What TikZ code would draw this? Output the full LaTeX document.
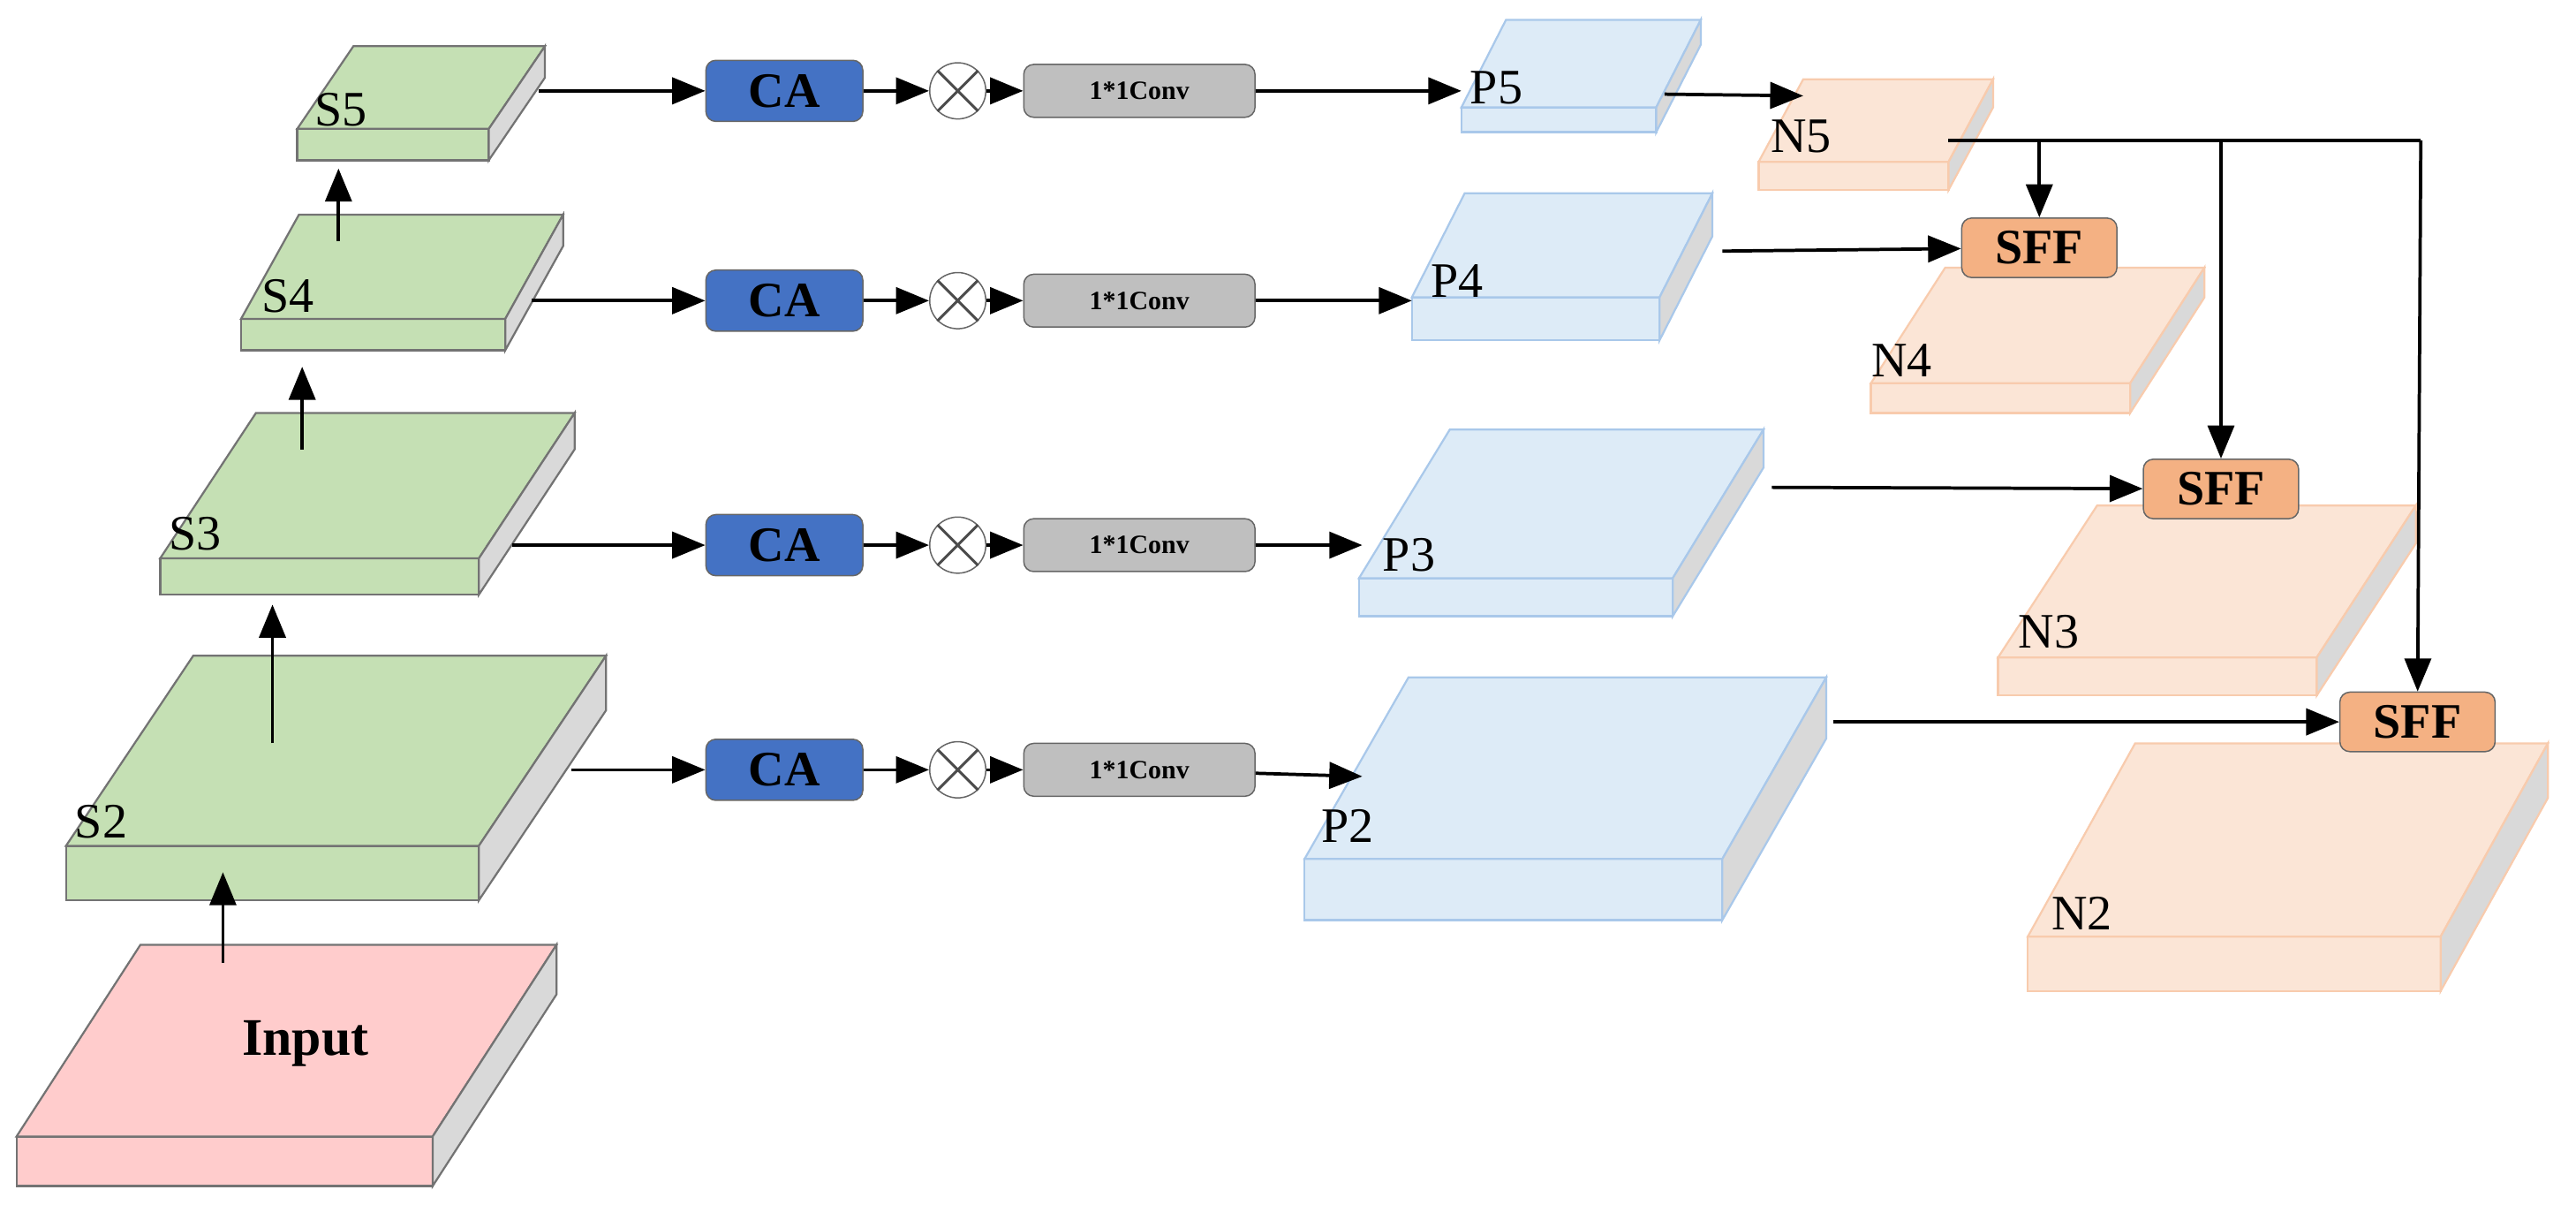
\documentclass[tikz,border=0pt]{standalone}
\usepackage{fontspec}
\setmainfont{Liberation Serif}
\usetikzlibrary{arrows.meta}
\definecolor{gfill}{HTML}{C5E0B4}
\definecolor{bfill}{HTML}{DDEBF7}
\definecolor{bedge}{HTML}{A9C8EA}
\definecolor{nfill}{HTML}{FBE5D6}
\definecolor{nedge}{HTML}{F8CBAD}
\definecolor{infill}{HTML}{FFCCCC}
\definecolor{sideg}{HTML}{D9D9D9}
\definecolor{cablue}{HTML}{4472C4}
\definecolor{sffc}{HTML}{F4B183}
\newcommand\myslab[8]{% x1 x2 yfront ybottom dx dy fill edge
  \filldraw[fill=#7,draw=#8,line width=0.6pt] (#1,#3) rectangle (#2,#4);
  \filldraw[fill=#7,draw=#8,line width=0.6pt] (#1,#3) -- (#2,#3) -- ({#2+#5},{#3-#6}) -- ({#1+#5},{#3-#6}) -- cycle;
  \filldraw[fill=sideg,draw=#8,line width=0.6pt] (#2,#3) -- ({#2+#5},{#3-#6}) -- ({#2+#5},{#4-#6}) -- (#2,#4) -- cycle;}
\tikzset{
  arr/.style={line width=1pt,-{Triangle[length=10pt,width=8pt]}},
  lab/.style={font=\fontsize{15}{15}\selectfont,inner sep=0pt,anchor=base west},
  ca/.style={draw=black!60,fill=cablue,rounded corners=3pt,minimum width=47.5pt,minimum height=18.5pt,inner sep=0pt,font=\fontsize{15}{15}\selectfont\bfseries},
  conv/.style={draw=black!60,fill=black!25,rounded corners=3pt,minimum width=70pt,minimum height=16pt,inner sep=0pt,font=\fontsize{8}{8}\selectfont\bfseries},
  mul/.style={draw=black!60,fill=white,circle,minimum size=17pt,inner sep=0pt},
  sff/.style={draw=black!60,fill=sffc,rounded corners=3pt,minimum width=47pt,minimum height=18pt,inner sep=0pt,font=\fontsize{15}{15}\selectfont\bfseries}
}
\begin{document}
\begin{tikzpicture}[x=0.5pt,y=-0.5pt]
\useasboundingbox (0,0) rectangle (1560,729);
% backbone
\myslab{10}{262}{688}{718}{75}{116}{infill}{black!55}
\node[font=\fontsize{16}{16}\selectfont\bfseries,inner sep=0pt] (in) at (185,632) {Input};
\myslab{40}{290}{512}{545}{77}{115}{gfill}{black!55}
\node[lab] (s2) at (45,507) {S2};
\myslab{97}{290}{338}{360}{58}{88}{gfill}{black!55}
\node[lab] (s3) at (102,333) {S3};
\myslab{146}{306}{193}{212}{35}{63}{gfill}{black!55}
\node[lab] (s4) at (158,189) {S4};
\myslab{180}{296}{78}{97}{34}{50}{gfill}{black!55}
\node[lab] (s5) at (190,76) {S5};
\coordinate (u1a) at (135,583); \coordinate (u1b) at (135,528);
\coordinate (u2a) at (165,450); \coordinate (u2b) at (165,366);
\coordinate (u3a) at (183,272); \coordinate (u3b) at (183,222);
\coordinate (u4a) at (205,146); \coordinate (u4b) at (205,102);
\draw[arr] (u1a) -- (u1b); \draw[arr] (u2a) -- (u2b);
\draw[arr] (u3a) -- (u3b); \draw[arr] (u4a) -- (u4b);
% P slabs
\myslab{885}{1003}{65}{80}{27}{53}{bfill}{bedge}
\myslab{855}{1005}{180}{206}{32}{63}{bfill}{bedge}
\myslab{823}{1013}{350}{373}{55}{90}{bfill}{bedge}
\myslab{790}{1043}{520}{557}{63}{110}{bfill}{bedge}
\node[lab] (p5) at (890,63) {P5};
\node[lab] (p4) at (866,180) {P4};
\node[lab] (p3) at (837,346) {P3};
\node[lab] (p2) at (800,510) {P2};
% N slabs
\myslab{1065}{1180}{98}{115}{27}{50}{nfill}{nedge}
\myslab{1133}{1290}{232}{250}{45}{70}{nfill}{nedge}
\myslab{1210}{1403}{398}{421}{60}{92}{nfill}{nedge}
\myslab{1228}{1478}{567}{600}{65}{117}{nfill}{nedge}
\node[lab] (n5) at (1072,92) {N5};
\node[lab] (n4) at (1133,228) {N4};
\node[lab] (n3) at (1222,392) {N3};
\node[lab] (n2) at (1242,563) {N2};
% rows
\foreach \r/\y/\sx/\px/\py in {5/55/326/885/55, 4/182/322/855/182, 3/330/310/825/330, 2/466/346/825/470}{
  \node[ca] (ca\r) at (475,\y) {CA};
  \node[mul] (m\r) at (580,\y) {};
  \draw[black!70,line width=0.8pt] (m\r.north west) -- (m\r.south east) (m\r.north east) -- (m\r.south west);
  \node[conv] (cv\r) at (690,\y) {1*1Conv};
  \coordinate (st\r) at (\sx,\y);
  \coordinate (pe\r) at (\px,\py);
  \draw[arr] (st\r) -- (ca\r);
  \draw[arr] (ca\r) -- (m\r);
  \draw[arr] (m\r) -- (cv\r);
  \draw[arr] (cv\r) -- (pe\r);
}
% SFF
\node[sff] (f4) at (1235,150) {SFF};
\node[sff] (f3) at (1345,296) {SFF};
\node[sff] (f2) at (1464,437) {SFF};
\coordinate (p5o) at (1008,57); \coordinate (n5i) at (1092,58);
\draw[arr] (p5o) -- (n5i);
\coordinate (n5o) at (1180,85);
\draw[line width=1pt] (n5o) -- (1466,85);
\draw[arr] (1235,85) -- (f4);
\draw[arr] (1345,85) -- (f3);
\draw[arr] (1466,85) -- (f2);
\coordinate (p4o) at (1043,152); \coordinate (p3o) at (1073,295); \coordinate (p2o) at (1110,437);
\draw[arr] (p4o) -- (f4);
\draw[arr] (p3o) -- (f3);
\draw[arr] (p2o) -- (f2);
\end{tikzpicture}
\end{document}
